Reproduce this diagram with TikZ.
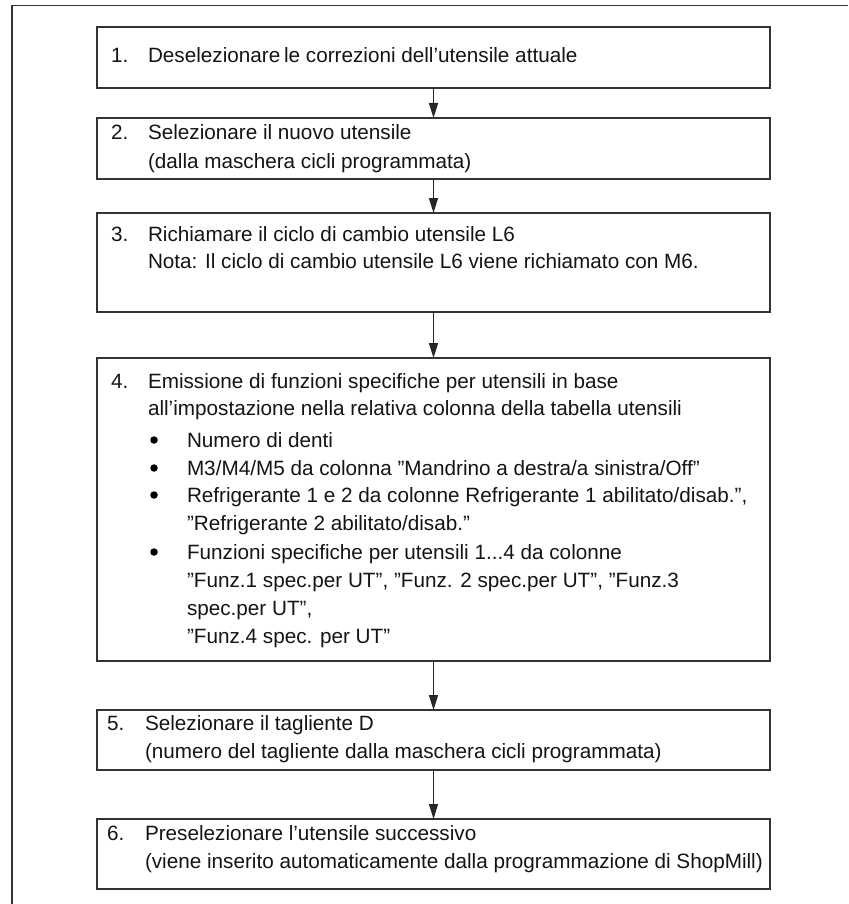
\documentclass[tikz,border=0pt]{standalone}
\usepackage{fontspec}
\setmainfont{Liberation Sans}
\usetikzlibrary{arrows.meta}
\begin{document}
\begin{tikzpicture}[x=1pt,y=-1pt,
  stepbox/.style={draw=black!80, line width=1.4pt, inner sep=0pt, outer sep=0pt, minimum width=673pt},
  txt/.style={anchor=base west, inner sep=0pt, outer sep=0pt, font=\fontsize{20.7}{28}\selectfont, text=black!92},
  dot/.style={circle, fill=black, inner sep=0pt, minimum size=7.5pt},
  link/.style={draw=black!85, line width=1.3pt, -{Triangle[length=15pt,width=9pt]}}]
\useasboundingbox (0,0) rectangle (848,904);

% outer frame (left and top edges)
\draw[line width=1.5pt, black!80] (12,904) -- (12,5.5) -- (848,5.5);

% process steps
\node[stepbox, minimum height=61pt]  (b1) at (433.5,57.5) {};
\node[stepbox, minimum height=61pt]  (b2) at (433.5,148.5) {};
\node[stepbox, minimum height=99pt]  (b3) at (433.5,262.5) {};
\node[stepbox, minimum height=303pt] (b4) at (433.5,509.5) {};
\node[stepbox, minimum height=60pt]  (b5) at (433.5,740) {};
\node[stepbox, minimum height=70pt]  (b6) at (433.5,854) {};

% connectors
\draw[link] (b1.south) -- (b2.north);
\draw[link] (b2.south) -- (b3.north);
\draw[link] (b3.south) -- (b4.north);
\draw[link] (b4.south) -- (b5.north);
\draw[link] (b5.south) -- (b6.north);

% step 1
\node[txt] (n1) at (111,63) {1.};
\node[txt] (t1) at (148,63) {Deselezionare\hspace{-2pt} le correzioni dell’utensile attuale};

% step 2
\node[txt] (n2) at (111,140) {2.};
\node[txt] (t2a) at (148,140) {Selezionare il nuovo utensile};
\node[txt] (t2b) at (148,168) {(dalla maschera cicli programmata)};

% step 3
\node[txt] (n3) at (111,241) {3.};
\node[txt] (t3a) at (148,241) {Richiamare il ciclo di cambio utensile L6};
\node[txt] (t3b) at (148,268) {Nota: Il ciclo di cambio utensile L6 viene richiamato con M6.};

% step 4
\node[txt] (n4) at (111,388) {4.};
\node[txt] (t4a) at (148,388) {Emissione di funzioni specifiche per utensili in base};
\node[txt] (t4b) at (148,415) {all’impostazione nella relativa colonna della tabella utensili};
\node[dot] (d1) at (154,440) {};
\node[txt] (t4c) at (187,447) {Numero di denti};
\node[dot] (d2) at (154,468) {};
\node[txt] (t4d) at (187,475) {M3/M4/M5 da colonna ”Mandrino a destra/a sinistra/Off”};
\node[dot] (d3) at (154,495) {};
\node[txt] (t4e) at (187,502) {Refrigerante 1 e 2 da colonne Refrigerante 1 abilitato/disab.”,};
\node[txt] (t4f) at (187,530) {”Refrigerante 2 abilitato/disab.”};
\node[dot] (d4) at (154,552) {};
\node[txt] (t4g) at (187,559) {Funzioni specifiche per utensili 1...4 da colonne};
\node[txt] (t4h) at (187,587) {”Funz.1 spec.per UT”, ”Funz. 2 spec.per UT”, ”Funz.3};
\node[txt] (t4i) at (187,615) {spec.per UT”,};
\node[txt] (t4j) at (187,643) {”Funz.4 spec. per UT”};

% step 5
\node[txt] (n5) at (107,730) {5.};
\node[txt] (t5a) at (145,730) {Selezionare il tagliente D};
\node[txt] (t5b) at (145,758) {(numero del tagliente dalla maschera cicli programmata)};

% step 6
\node[txt] (n6) at (107,840) {6.};
\node[txt] (t6a) at (145,840) {Preselezionare l’utensile successivo};
\node[txt] (t6b) at (145,868) {(viene inserito automaticamente dalla programmazione di ShopMill)};
\end{tikzpicture}
\end{document}
